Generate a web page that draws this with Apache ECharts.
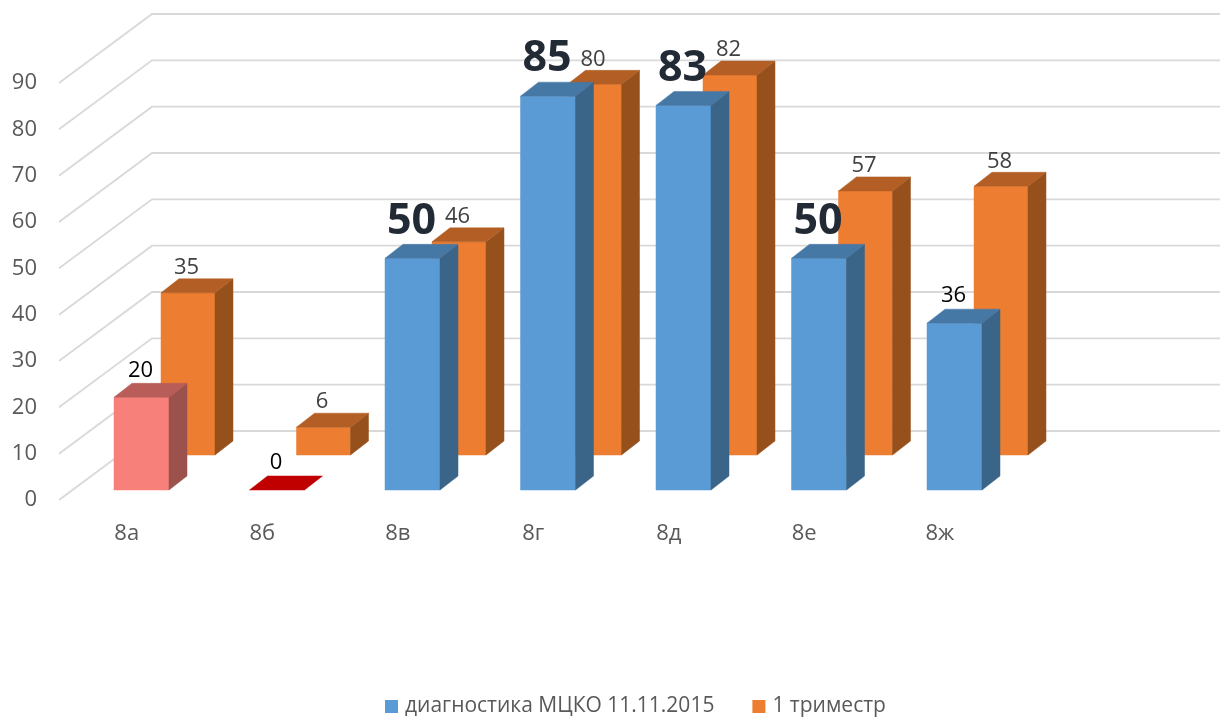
<!DOCTYPE html>
<html>
<head>
<meta charset="utf-8">
<style>
  html, body { margin: 0; padding: 0; background: #fff; }
  #chart { width: 1220px; height: 717px; }
</style>
<script src="https://cdn.jsdelivr.net/npm/echarts@6/dist/echarts.min.js"></script>
</head>
<body>
<div id="chart"></div>
<script>
var categories = ['8а', '8б', '8в', '8г', '8д', '8е', '8ж', ''];
var yTicks = [0, 10, 20, 30, 40, 50, 60, 70, 80, 90];
var diagnosticValues = [20, 0, 50, 85, 83, 50, 36];
var trimesterValues = [35, 6, 46, 80, 82, 57, 58];
var diagnosticName = 'диагностика МЦКО 11.11.2015';
var trimesterName = '1 триместр';

var fontName = '"Open Sans", "Noto Sans", sans-serif';
var blueFaces = { front: '#5B9BD5', top: '#4678A6', side: '#3A6488' };
var orangeFaces = { front: '#ED7D31', top: '#B25E24', side: '#96501C' };
// 8а and 8б are recoloured in the original
var blueOverrides = {
    0: { front: '#F8807A', top: '#B85D58', side: '#9B524D' },
    1: { front: '#C00000', top: '#C00000', side: '#C00000' }
};
var bigLabels = { 2: true, 3: true, 4: true, 5: true };

var chart = echarts.init(document.getElementById('chart'));

function seriesData(values) {
    return values.map(function (v, i) { return [i, v]; });
}

function face(points, color) {
    return {
        type: 'polygon',
        shape: { points: points },
        style: { fill: color, stroke: color, lineWidth: 0.5 }
    };
}

function box(api, conf, faces) {
    var idx = api.value(0);
    var p = api.coord([idx, api.value(1)]);
    var zero = api.coord([idx, 0]);
    var left = p[0] - api.size([1, 0])[0] / 2 + conf.dx;
    var right = left + conf.width;
    var top = p[1] - conf.dy;
    var base = zero[1] - conf.dy;
    var kids = [];
    if (base > top) {
        kids.push(face([[left, top], [right, top], [right, base], [left, base]], faces.front));
        kids.push(face([[right, top], [right + 18, top - 14], [right + 18, base - 14], [right, base]], faces.side));
    }
    kids.push(face([[left, top], [left + 18, top - 14], [right + 18, top - 14], [right, top]], faces.top));
    return { kids: kids, center: (left + right) / 2, top: top };
}

function valueText(x, y, text, size, weight, color) {
    return {
        type: 'text',
        style: {
            x: x, y: y, text: String(text), align: 'center', verticalAlign: 'middle',
            fontFamily: fontName, fontSize: size, fontWeight: weight, fill: color
        }
    };
}

function renderGridLine(params, api) {
    var p = api.coord([0, api.value(0)]);
    var x0 = p[0] - api.size([1, 0])[0] / 2;
    return {
        type: 'polyline',
        shape: { points: [[x0, p[1]], [x0 + 93, p[1] - 69], [1220, p[1] - 69]] },
        style: { stroke: '#D9D9D9', lineWidth: 1.8, fill: null }
    };
}

function renderOrange(params, api) {
    var b = box(api, { dx: 102, dy: 45, width: 54 }, orangeFaces);
    b.kids.push(valueText(b.center - 1.5, b.top - 25, api.value(1), 22, 'normal', '#404040'));
    return { type: 'group', children: b.kids };
}

function renderBlue(params, api) {
    var idx = api.value(0);
    var b = box(api, { dx: 55, dy: 10, width: 55 }, blueOverrides[idx] || blueFaces);
    if (bigLabels[idx]) {
        b.kids.push(valueText(b.center - 1, b.top - 37, api.value(1), 43, 'bold', '#222A35'));
    } else {
        b.kids.push(valueText(b.center - 1, b.top - 27, api.value(1), 22, 'normal', '#000000'));
    }
    return { type: 'group', children: b.kids };
}

var option = {
    animation: false,
    backgroundColor: '#fff',
    grid: { left: 59, top: 83, width: 1084, height: 417, containLabel: false },
    legend: {
        left: 385,
        top: 696,
        padding: 0,
        icon: 'rect',
        itemWidth: 13,
        itemHeight: 13,
        itemGap: 38,
        selectedMode: false,
        textStyle: { fontFamily: fontName, fontSize: 21, color: '#595959', padding: [0, 0, 0, 2] },
        data: [diagnosticName, trimesterName]
    },
    xAxis: {
        type: 'category',
        data: categories,
        axisLine: { show: false },
        axisTick: { show: false },
        axisLabel: { interval: 0, margin: 23, fontFamily: fontName, fontSize: 22, color: '#595959' }
    },
    yAxis: {
        type: 'value',
        min: 0,
        max: 90,
        interval: 10,
        splitLine: { show: false },
        axisLine: { show: false },
        axisTick: { show: false },
        axisLabel: { margin: 22, lineHeight: 30, padding: [3, 0, 0, 0], fontFamily: fontName, fontSize: 22, color: '#595959' }
    },
    series: [
        {
            name: 'сетка',
            type: 'custom',
            silent: true,
            clip: false,
            z: 1,
            encode: { y: 0 },
            data: yTicks.map(function (t) { return [t]; }),
            renderItem: renderGridLine
        },
        {
            name: trimesterName,
            type: 'custom',
            clip: false,
            z: 2,
            encode: { x: 0, y: 1 },
            itemStyle: { color: orangeFaces.front },
            data: seriesData(trimesterValues),
            renderItem: renderOrange
        },
        {
            name: diagnosticName,
            type: 'custom',
            clip: false,
            z: 3,
            encode: { x: 0, y: 1 },
            itemStyle: { color: blueFaces.front },
            data: seriesData(diagnosticValues),
            renderItem: renderBlue
        }
    ]
};

chart.setOption(option);
</script>
</body>
</html>
